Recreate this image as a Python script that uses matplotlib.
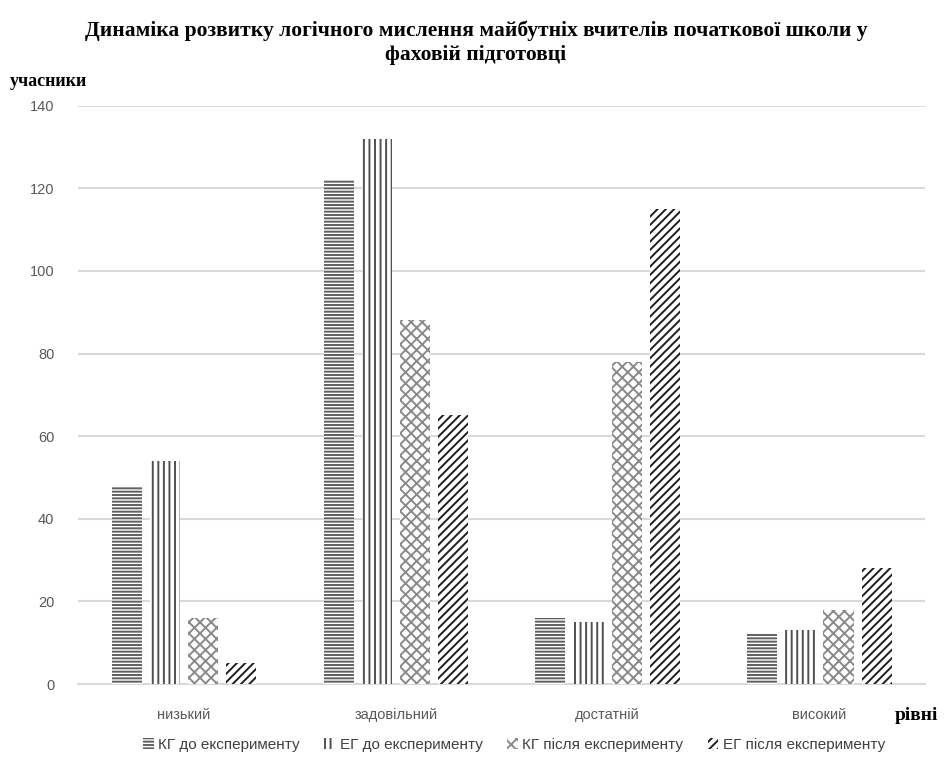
import numpy as np
import matplotlib.pyplot as plt

plt.rcParams['font.family'] = ['Liberation Sans Narrow', 'Liberation Sans', 'DejaVu Sans']
plt.rcParams['hatch.linewidth'] = 1.4

categories = ['низький', 'задовільний', 'достатній', 'високий']
series_names = ['КГ до експерименту', 'ЕГ до експерименту',
                'КГ після експерименту', 'ЕГ після експерименту']
kg_before = [48, 122, 16, 12]
eg_before = [54, 132, 15, 13]
kg_after = [16, 88, 78, 18]
eg_after = [5, 65, 115, 28]

values = [kg_before, eg_before, kg_after, eg_after]
hatches = ['-----', '|||', 'xxx', '////']
hatch_colors = ['#606060', '#505050', '#8a8a8a', '#1e1e1e']

fig = plt.figure(figsize=(9.52, 7.6), dpi=100)
ax = fig.add_axes([0.082, 0.1, 0.89, 0.761])

x = np.arange(len(categories))
width = 0.142
step = 0.18
for i, (vals, h, c) in enumerate(zip(values, hatches, hatch_colors)):
    pos = x + (i - 1.5) * step
    ax.bar(pos, vals, width, color='white', edgecolor=c, hatch=h,
           linewidth=0, label=series_names[i], zorder=3)

ax.set_ylim(0, 140)
ax.set_xlim(-0.5, len(categories) - 0.5)
ax.set_yticks(np.arange(0, 141, 20))
ax.set_xticks(x)
ax.set_xticklabels(categories)
ax.tick_params(axis='both', length=0, colors='#595959', labelsize=10.5)
ax.tick_params(axis='x', pad=17)
ax.tick_params(axis='y', pad=17)
ax.yaxis.grid(True, color='#d9d9d9', linewidth=1.5, zorder=0)
for s in ['top', 'right', 'left']:
    ax.spines[s].set_visible(False)
ax.spines['bottom'].set_color('#d9d9d9')
ax.spines['bottom'].set_linewidth(1.5)

fig.text(0.5, 0.944, 'Динаміка розвитку логічного мислення майбутніх вчителів початкової школи у\nфаховій підготовці',
         ha='center', va='center', fontsize=15.5, fontweight='bold',
         family=['Liberation Serif', 'DejaVu Serif'], linespacing=1.25)
fig.text(0.01, 0.893, 'учасники', ha='left', va='center', fontsize=13,
         fontweight='bold', family=['Liberation Serif', 'DejaVu Serif'])
fig.text(0.94, 0.058, 'рівні', ha='left', va='center', fontsize=14,
         fontweight='bold', family=['Liberation Serif', 'DejaVu Serif'])

fig.legend(loc='center', bbox_to_anchor=(0.54, 0.02), ncol=4, frameon=False,
           fontsize=11, handlelength=0.7, handleheight=0.7, handletextpad=0.3,
           columnspacing=1.6, labelcolor='#404040')

fig.savefig('out.png', dpi=100)
